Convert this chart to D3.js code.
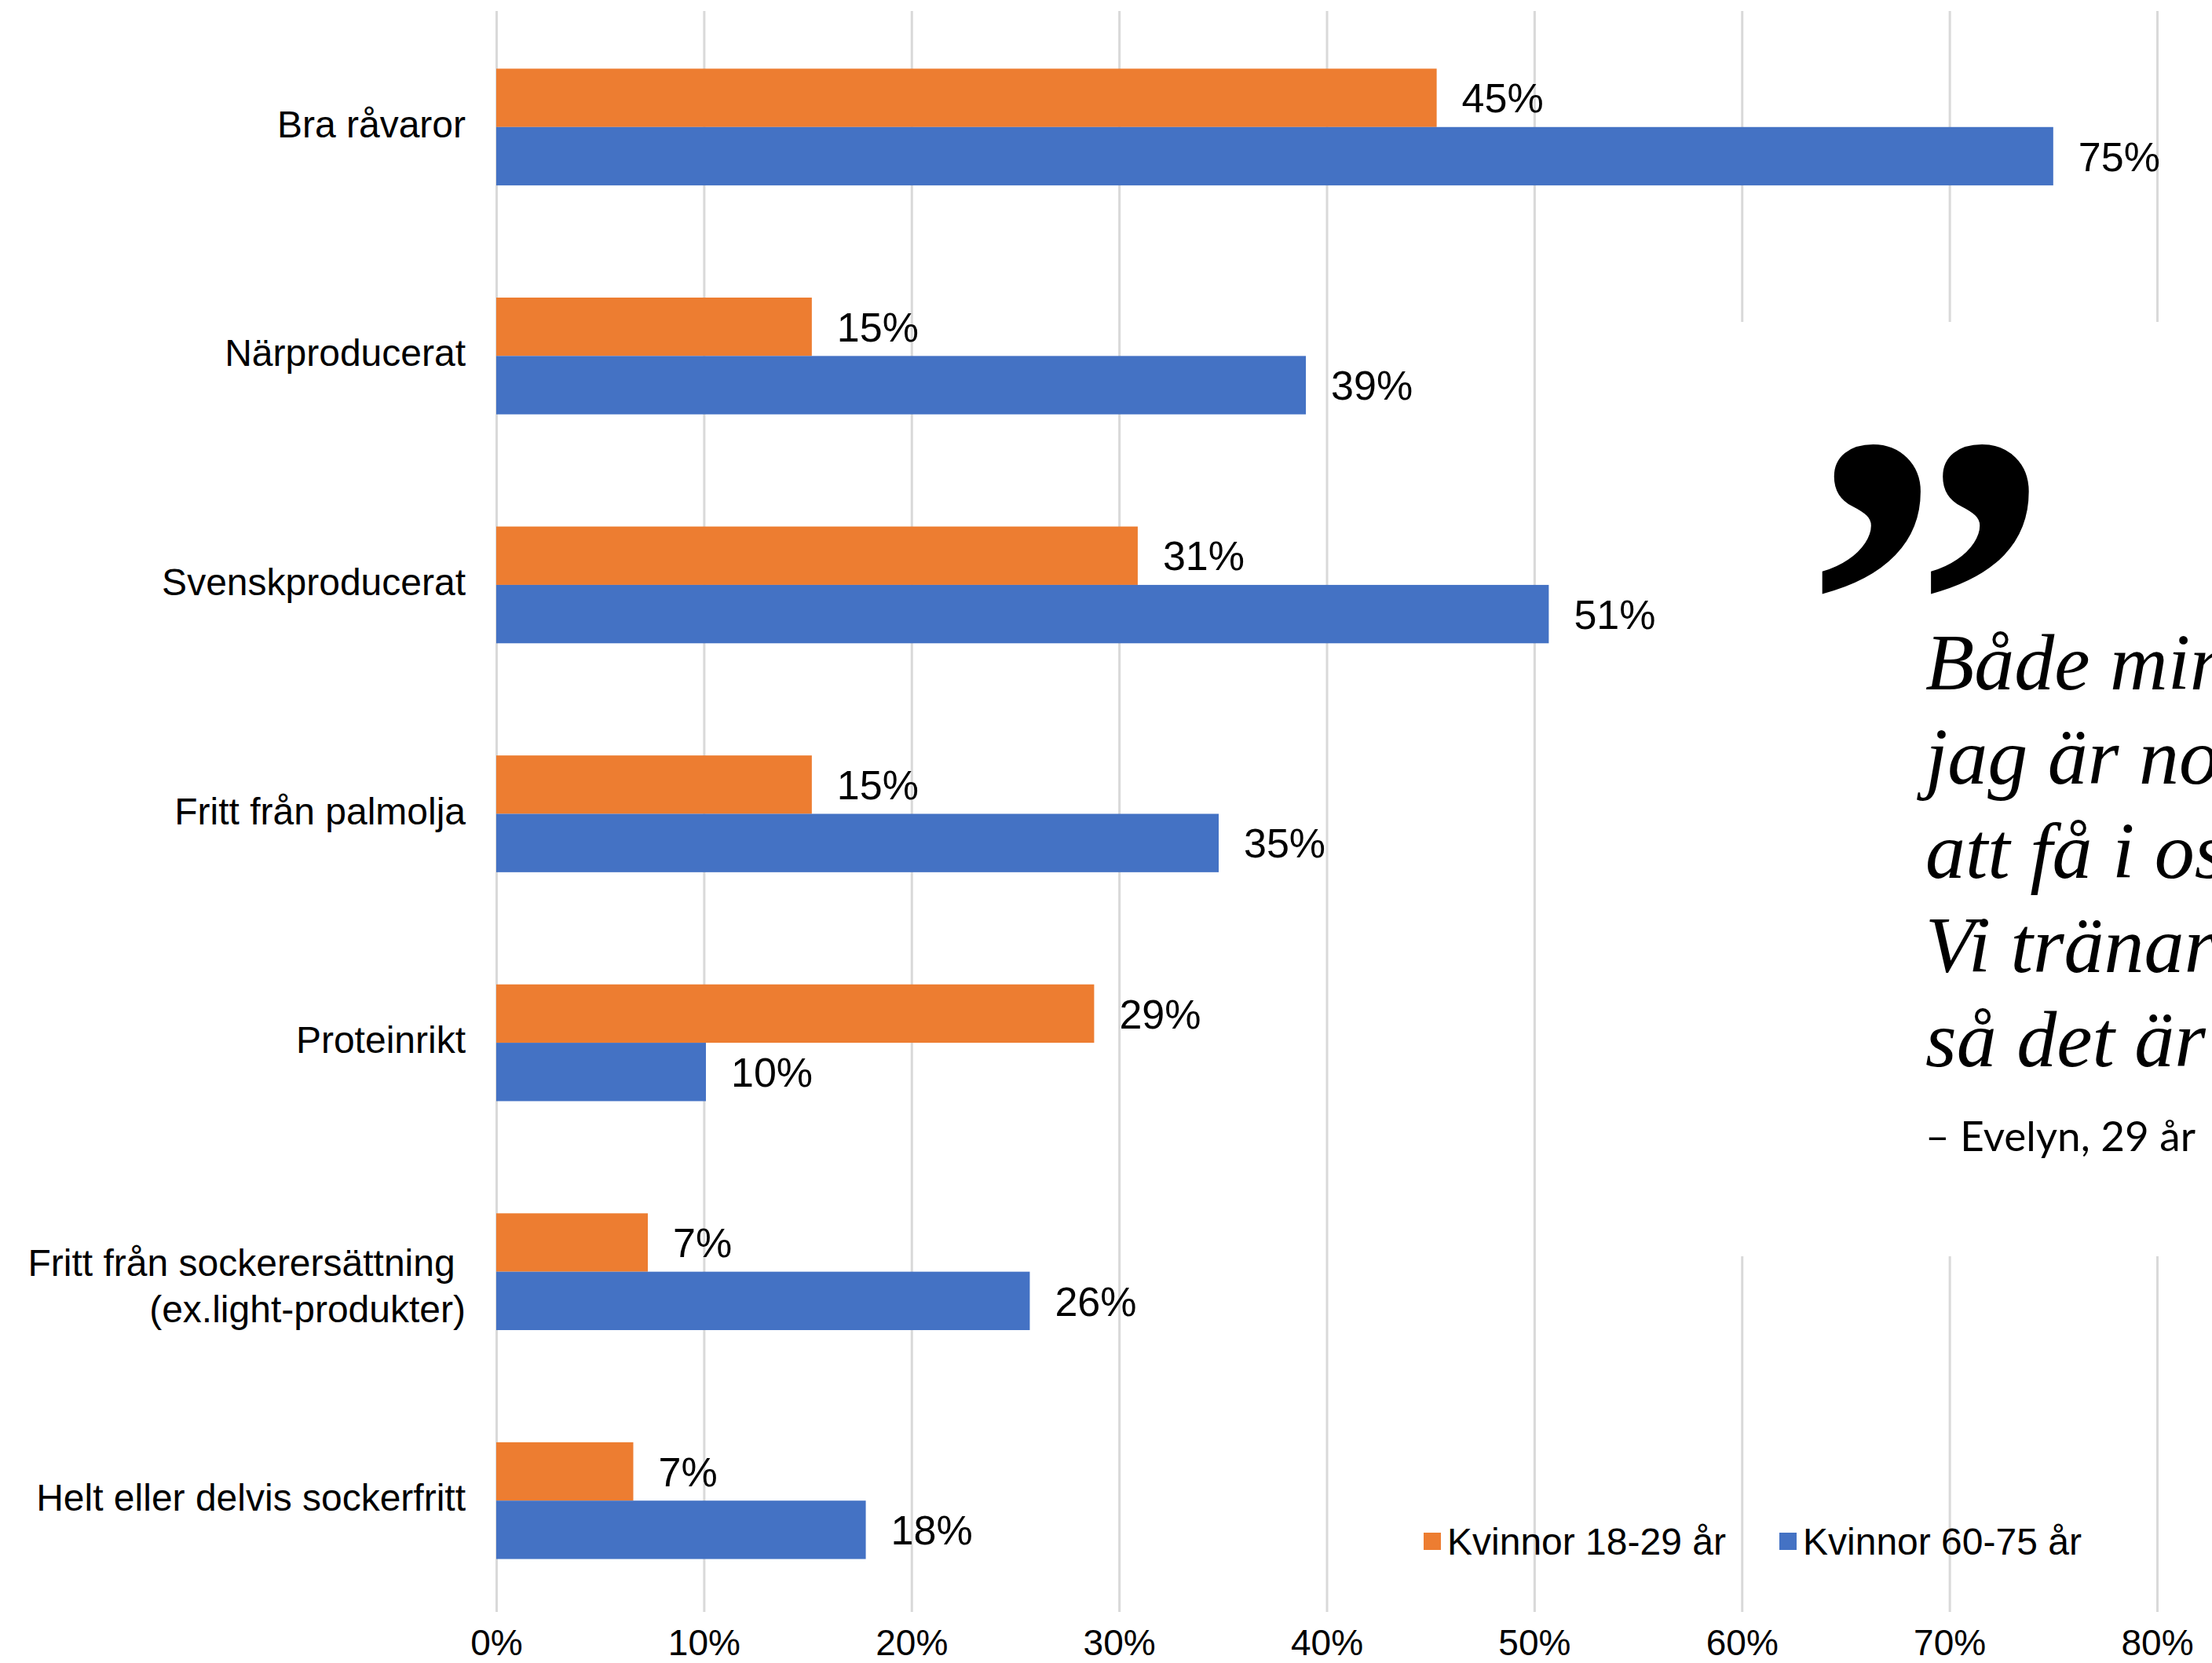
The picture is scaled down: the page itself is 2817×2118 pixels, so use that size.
<!DOCTYPE html>
<html>
<head>
<meta charset="utf-8">
<script src="https://cdn.jsdelivr.net/npm/d3@7"></script>
<style>
  html, body { margin: 0; padding: 0; background: #fff; }
  svg { display: block; }
</style>
</head>
<body>
<svg id="chart" width="2817" height="2118"></svg>
<script>

// data
var categories = [
	"Bra råvaror",
	"Närproducerat",
	"Svenskproducerat",
	"Fritt från palmolja",
	"Proteinrikt",
	"Fritt från sockerersättning \n(ex.light-produkter)",
	"Helt eller delvis sockerfritt"
];
var seriesNames = ["Kvinnor 18-29 år", "Kvinnor 60-75 år"];
var young = [0.453, 0.152, 0.309, 0.152, 0.288, 0.073, 0.066];
var old = [0.75, 0.39, 0.507, 0.348, 0.101, 0.257, 0.178];
var tickValues = [0, 0.1, 0.2, 0.3, 0.4, 0.5, 0.6, 0.7, 0.8];
var quoteLines = [
	"Både min sambo och",
	"jag är noga med",
	"att få i oss protein.",
	"Vi tränar mycket,",
	"så det är viktigt."
];
var quoteAuthor = "– Evelyn, 29 år";

var colors = { "Kvinnor 18-29 år": "#ED7D31", "Kvinnor 60-75 år": "#4472C4" };
var sansFont = "'Liberation Sans', Arial, Helvetica, sans-serif";

var svg = d3.select("#chart");

var gridTop = 14, gridBottom = 2053;

var x_scale = d3.scaleLinear().domain([0, 0.8]).range([632, 2747]);
var y_scale = d3.scaleBand().domain(categories).range([16, 2057]).paddingInner(0.49).paddingOuter(0.245);
var y_inner = d3.scaleBand().domain(seriesNames).range([0, y_scale.bandwidth()]);

var rows = categories.map(function (c, i) {
	return { cat: c, values: [
		{ name: seriesNames[0], value: young[i] },
		{ name: seriesNames[1], value: old[i] }
	] };
});

// grid + tick labels
var xAxis = d3.axisBottom(x_scale)
	.tickValues(tickValues)
	.tickFormat(d3.format(".0%"))
	.tickSize(-(gridBottom - gridTop))
	.tickPadding(22);

var axisG = svg.append("g")
	.attr("class", "xAxis")
	.attr("transform", "translate(0," + gridBottom + ")")
	.call(xAxis);
axisG.select(".domain").remove();
axisG.selectAll(".tick line").attr("stroke", "#d9d9d9").attr("stroke-width", 3);
axisG.selectAll(".tick text")
	.attr("fill", "#000")
	.style("font-family", sansFont)
	.style("font-size", "46px");

// white panel behind the quote breaks the gridlines
svg.append("rect")
	.attr("x", 2150).attr("y", 410)
	.attr("width", 2817 - 2150).attr("height", 1600 - 410)
	.attr("fill", "#fff");

// bars
var groups = svg.append("g").selectAll("g")
	.data(rows)
	.enter().append("g")
	.attr("transform", function (d) { return "translate(0," + y_scale(d.cat) + ")"; });

groups.selectAll("rect")
	.data(function (d) { return d.values; })
	.enter().append("rect")
	.attr("x", x_scale(0))
	.attr("y", function (d) { return y_inner(d.name); })
	.attr("width", function (d) { return x_scale(d.value) - x_scale(0); })
	.attr("height", y_inner.bandwidth())
	.attr("fill", function (d) { return colors[d.name]; });

groups.selectAll("text.val")
	.data(function (d) { return d.values; })
	.enter().append("text")
	.attr("class", "val")
	.attr("x", function (d) { return x_scale(d.value) + 32; })
	.attr("y", function (d) { return y_inner(d.name) + y_inner.bandwidth() / 2; })
	.attr("dy", "0.36em")
	.style("font-family", sansFont)
	.style("font-size", "52px")
	.text(function (d) { return d3.format(".0%")(d.value); });

// category labels
var catLabels = svg.append("g").selectAll("text")
	.data(categories)
	.enter().append("text")
	.attr("text-anchor", "end")
	.style("font-family", sansFont)
	.style("font-size", "48px")
	.style("white-space", "pre")
	.attr("x", 593)
	.attr("y", function (d) { return y_scale(d) + y_scale.bandwidth() / 2; });

catLabels.each(function (d) {
	var lines = d.split("\n");
	var el = d3.select(this);
	var lh = 59;
	var start = -(lines.length - 1) * lh / 2 + (lines.length > 1 ? 22 : 0);
	lines.forEach(function (l, i) {
		el.append("tspan")
			.attr("x", 593)
			.attr("dy", i === 0 ? (start + 13) + "px" : lh + "px")
			.text(l);
	});
});

// legend
var legend = svg.append("g").selectAll("g")
	.data(seriesNames)
	.enter().append("g")
	.attr("transform", function (d, i) { return "translate(" + [1813, 2266][i] + ",1952)"; });
legend.append("rect")
	.attr("width", 22).attr("height", 22)
	.attr("fill", function (d) { return colors[d]; });
legend.append("text")
	.attr("x", 30).attr("y", 28)
	.style("font-family", sansFont)
	.style("font-size", "48px")
	.text(function (d) { return d; });

// quote
svg.append("text")
	.attr("x", 2297).attr("y", 985)
	.style("font-family", "'Liberation Serif', 'Times New Roman', serif")
	.style("font-weight", "bold")
	.style("font-size", "630px")
	.text("”");

svg.append("g").selectAll("text")
	.data(quoteLines)
	.enter().append("text")
	.attr("x", 2452)
	.attr("y", function (d, i) { return 878 + i * 120; })
	.style("font-family", "'Liberation Serif', 'Times New Roman', serif")
	.style("font-style", "italic")
	.style("font-size", "102px")
	.text(function (d) { return d; });

svg.append("text")
	.attr("x", 2452).attr("y", 1466)
	.style("font-family", "Lato, 'Noto Sans', sans-serif")
	.style("font-size", "53px")
	.text(quoteAuthor);

</script>
</body>
</html>
